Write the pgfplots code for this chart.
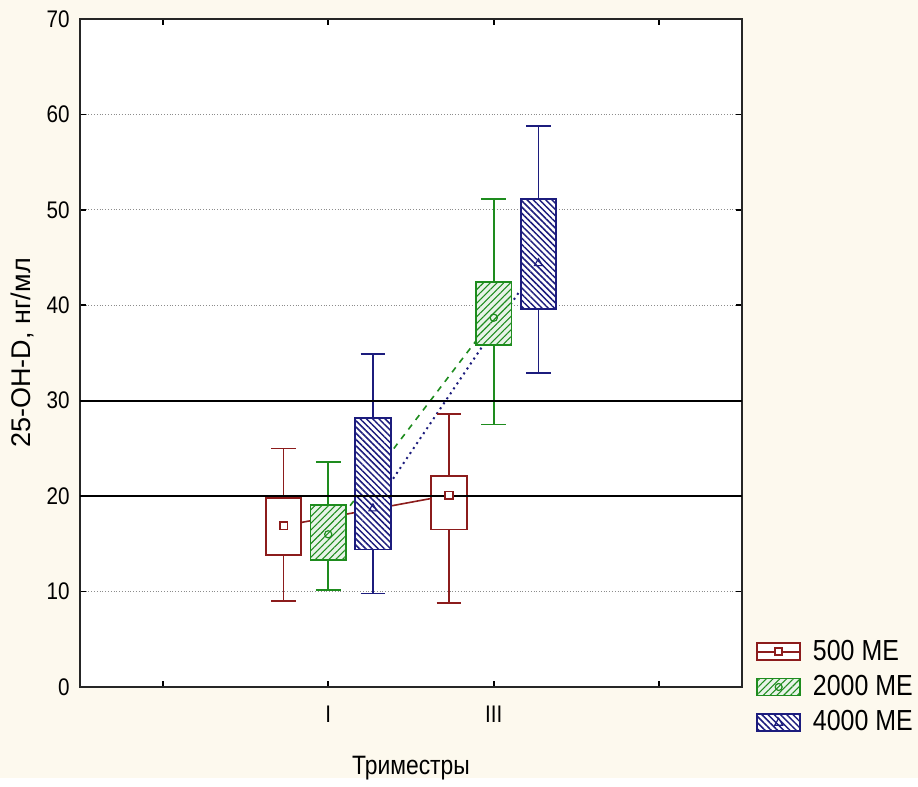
\documentclass[border=0pt]{standalone}
\usepackage{fontspec}
\setmainfont{Liberation Sans}[FakeStretch=0.86]
\newfontfamily\normalsans{Liberation Sans}
\usepackage{pgfplots}
\pgfplotsset{compat=1.18}
\usetikzlibrary{patterns.meta}
\definecolor{bgc}{RGB}{253,249,238}
\definecolor{cred}{RGB}{140,28,28}
\definecolor{cgreen}{RGB}{30,140,30}
\definecolor{cblue}{RGB}{28,28,125}
\pgfplotsset{
  boxR/.style={draw=cred, line width=0.9pt, fill=white, forget plot, mark=none},
  boxG/.style={draw=cgreen, line width=0.9pt, fill=cgreen!10, forget plot, mark=none,
    postaction={pattern={Lines[angle=45,distance=2.4pt,line width=0.55pt]}, pattern color=cgreen}},
  boxB/.style={draw=cblue, line width=0.9pt, fill=white, forget plot, mark=none,
    postaction={pattern={Lines[angle=-45,distance=2.2pt,line width=0.75pt]}, pattern color=cblue}},
  whisk/.style={line width=0.9pt, forget plot, mark=none, unbounded coords=jump},
}
\begin{document}
\begin{tikzpicture}
\fill[bgc] (-40pt,-45.5pt) rectangle (419pt,343.5pt);
\begin{axis}[
  scale only axis, width=331pt, height=334pt,
  xmin=0.5, xmax=4.5, ymin=0, ymax=70,
  xtick={1,2,3,4}, xticklabels={,I,III,},
  ytick={0,10,...,70},
  ymajorgrids, major grid style={densely dotted, black!45, line width=0.6pt},
  axis background/.style={fill=white},
  axis line style={black!85, line width=1pt},
  tick align=inside, major tick length=3pt, tick style={black, line width=0.8pt},
  /pgf/number format/assume math mode=true,
  tick label style={font=\fontsize{12}{14}\selectfont},
  yticklabel style={anchor=east, inner sep=0pt, xshift=-5pt},
  xticklabel style={anchor=north, inner sep=0pt, yshift=-9.5pt},
  xlabel={Триместры}, ylabel={25-OH-D, нг/мл},
  xlabel style={font=\fontsize{13.3}{15}\selectfont, at={(axis description cs:0.5,-0.1213)}, anchor=center},
  ylabel style={font=\normalsans\fontsize{13.5}{15}\selectfont, at={(axis description cs:-0.0876,0.5)}, anchor=center},
  legend style={at={(1,0)}, anchor=west, xshift=7pt, draw=none, fill=none, inner sep=0pt,
    font=\fontsize{14.5}{17}\selectfont, row sep=4pt, column sep=5pt, nodes={inner sep=1pt}},
  legend cell align=left,
]
% mean connecting lines
\addplot[cred, line width=0.8pt, forget plot] coordinates {(1.73,16.9) (2.73,20.1)};
\addplot[cgreen, line width=0.8pt, dashed, forget plot] coordinates {(2,16.0) (3,38.7)};
\addplot[cblue, line width=1pt, dotted, forget plot] coordinates {(2.27,18.7) (3.27,44.4)};
% whiskers with caps
\addplot[cred, whisk] coordinates {
  (1.73,9.0) (1.73,25.0) (1.73,nan) (1.655,9.0) (1.805,9.0) (1.73,nan) (1.655,25.0) (1.805,25.0) (1.73,nan)
  (2.73,8.8) (2.73,28.6) (2.73,nan) (2.655,8.8) (2.805,8.8) (2.73,nan) (2.655,28.6) (2.805,28.6)};
\addplot[cgreen, whisk] coordinates {
  (2,10.2) (2,23.6) (2,nan) (1.925,10.2) (2.075,10.2) (2,nan) (1.925,23.6) (2.075,23.6) (2,nan)
  (3,27.5) (3,51.1) (3,nan) (2.925,27.5) (3.075,27.5) (3,nan) (2.925,51.1) (3.075,51.1)};
\addplot[cblue, whisk] coordinates {
  (2.27,9.8) (2.27,34.9) (2.27,nan) (2.195,9.8) (2.345,9.8) (2.27,nan) (2.195,34.9) (2.345,34.9) (2.27,nan)
  (3.27,32.9) (3.27,58.8) (3.27,nan) (3.195,32.9) (3.345,32.9) (3.27,nan) (3.195,58.8) (3.345,58.8)};
% boxes (quartiles)
\addplot[boxR] coordinates {(1.6225,13.8) (1.8375,13.8) (1.8375,19.8) (1.6225,19.8)} -- cycle;
\addplot[boxG] coordinates {(1.8925,13.3) (2.1075,13.3) (2.1075,19.1) (1.8925,19.1)} -- cycle;
\addplot[boxB] coordinates {(2.1625,14.4) (2.3775,14.4) (2.3775,28.2) (2.1625,28.2)} -- cycle;
\addplot[boxR] coordinates {(2.6225,16.5) (2.8375,16.5) (2.8375,22.1) (2.6225,22.1)} -- cycle;
\addplot[boxG] coordinates {(2.8925,35.8) (3.1075,35.8) (3.1075,42.4) (2.8925,42.4)} -- cycle;
\addplot[boxB] coordinates {(3.1625,39.6) (3.3775,39.6) (3.3775,51.1) (3.1625,51.1)} -- cycle;
% reference lines
\addplot[black, line width=1pt, forget plot] coordinates {(0.5,20) (4.5,20)};
\addplot[black, line width=1pt, forget plot] coordinates {(0.5,30) (4.5,30)};
% mean markers
\addplot[only marks, mark=square*, mark size=1.9pt, cred, mark options={fill=white, line width=0.8pt}, forget plot] coordinates {(1.73,16.9) (2.73,20.1)};
\addplot[only marks, mark=o, mark size=1.8pt, cgreen, mark options={line width=0.6pt}, forget plot] coordinates {(2,16.0) (3,38.7)};
\addplot[only marks, mark=triangle, mark size=2.3pt, cblue, mark options={line width=0.6pt}, forget plot] coordinates {(2.27,18.7) (3.27,44.4)};
% legend
\addlegendimage{legend image code/.code={
  \draw[cred, line width=0.8pt, fill=white] (0pt,-4.25pt) rectangle (21.5pt,4.25pt);
  \draw[cred, line width=0.8pt] (0pt,0pt) -- (21.5pt,0pt);
  \draw[cred, line width=0.8pt, fill=white] (9pt,-1.75pt) rectangle (12.5pt,1.75pt);}}
\addlegendentry{500 МЕ}
\addlegendimage{legend image code/.code={
  \draw[cgreen, line width=0.8pt, fill=cgreen!10, postaction={pattern={Lines[angle=45,distance=2.4pt,line width=0.55pt]}, pattern color=cgreen}] (0pt,-4.25pt) rectangle (21.5pt,4.25pt);
  \draw[cgreen, line width=0.6pt] (10.75pt,0pt) circle (1.75pt);}}
\addlegendentry{2000 МЕ}
\addlegendimage{legend image code/.code={
  \draw[cblue, line width=0.8pt, fill=white, postaction={pattern={Lines[angle=-45,distance=2.2pt,line width=0.75pt]}, pattern color=cblue}] (0pt,-4.25pt) rectangle (21.5pt,4.25pt);
  \draw[cblue, line width=0.6pt] (8.75pt,-1.5pt) -- (12.75pt,-1.5pt) -- (10.75pt,2pt) -- cycle;}}
\addlegendentry{4000 МЕ}
\end{axis}
\end{tikzpicture}
\end{document}
